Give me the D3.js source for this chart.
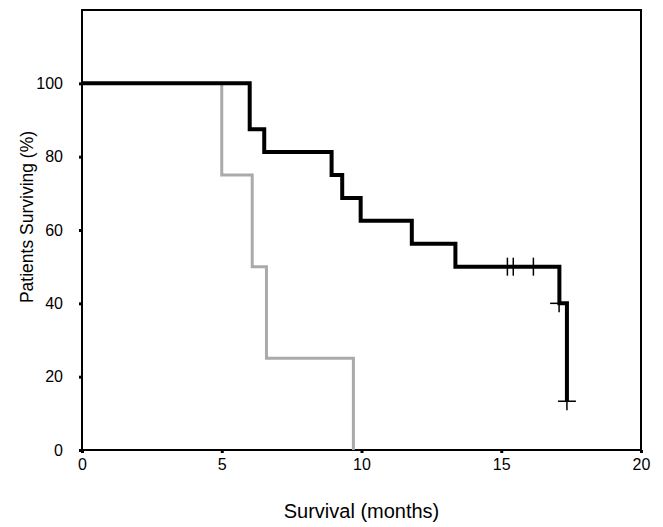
<!DOCTYPE html>
<html>
<head>
<meta charset="utf-8">
<script src="https://cdn.jsdelivr.net/npm/d3@7"></script>
<style>
  body { margin: 0; background: #fff; }
  text { font-family: "Liberation Sans", Arial, sans-serif; }
</style>
</head>
<body>
<div id="chart"></div>
<script>
// survival curves (months, % surviving)
var blackTimes = [0, 6.0, 6.52, 8.93, 9.31, 9.97, 11.8, 13.36, 17.08, 17.35];
var blackSurv = [100, 87.5, 81.25, 75, 68.75, 62.5, 56.25, 50, 40, 13.3];
var blackCensorTimes = [15.22, 15.43, 16.15, 17.07, 17.35];
var blackCensorSurv = [50, 50, 50, 40, 13.3];

var greyTimes = [5, 5, 6.09, 6.6, 9.71];
var greySurv = [100, 75, 50, 25, 0];

var xTicks = [0, 5, 10, 15, 20];
var yTicks = [0, 20, 40, 60, 80, 100];

var width = 663;
var height = 527;
var margin = { left: 82, right: 22, top: 10, bottom: 77 };
var plotW = width - margin.left - margin.right;
var plotH = height - margin.top - margin.bottom;

var xScale = d3.scaleLinear().domain([0, 20]).range([0, plotW]);
var yScale = d3.scaleLinear().domain([0, 120]).range([plotH, 0]);

var svg = d3.select("#chart").append("svg")
    .attr("width", width)
    .attr("height", height);

var g = svg.append("g")
    .attr("transform", "translate(" + margin.left + "," + margin.top + ")");

var line = d3.line()
    .x(function (d) { return xScale(d[0]); })
    .y(function (d) { return yScale(d[1]); })
    .curve(d3.curveStepAfter);

// frame
g.append("rect")
    .attr("width", plotW)
    .attr("height", plotH)
    .attr("fill", "none")
    .attr("stroke", "#000")
    .attr("stroke-width", 2);

var xAxis = d3.axisBottom(xScale).tickValues(xTicks).tickSize(3).tickPadding(6);
var yAxis = d3.axisLeft(yScale).tickValues(yTicks).tickSize(3).tickPadding(16);

var gx = g.append("g")
    .attr("transform", "translate(0," + plotH + ")")
    .call(xAxis);
var gy = g.append("g").call(yAxis);

[gx, gy].forEach(function (ax) {
    ax.select(".domain").remove();
    ax.selectAll("line").attr("stroke", "#000").attr("stroke-width", 3);
    ax.selectAll("text")
        .attr("fill", "#000")
        .style("font-size", "16px");
});

// curves
g.append("path")
    .attr("fill", "none")
    .attr("stroke", "#aaaaaa")
    .attr("stroke-width", 3)
    .attr("d", line(d3.zip(greyTimes, greySurv)));

g.append("path")
    .attr("fill", "none")
    .attr("stroke", "#000")
    .attr("stroke-width", 4)
    .attr("d", line(d3.zip(blackTimes, blackSurv)));

// censor marks
var censor = g.append("g").attr("stroke", "#000").attr("stroke-width", 1.5);
d3.zip(blackCensorTimes, blackCensorSurv).forEach(function (d) {
    var cx = xScale(d[0]), cy = yScale(d[1]);
    censor.append("line").attr("x1", cx).attr("x2", cx).attr("y1", cy - 9).attr("y2", cy + 9);
    censor.append("line").attr("x1", cx - 9).attr("x2", cx + 9).attr("y1", cy).attr("y2", cy);
});

// titles
svg.append("text")
    .attr("x", margin.left + plotW / 2)
    .attr("y", 518)
    .attr("text-anchor", "middle")
    .style("font-size", "20px")
    .text("Survival (months)");

svg.append("text")
    .attr("transform", "translate(33,217) rotate(-90)")
    .attr("text-anchor", "middle")
    .style("font-size", "17.5px")
    .text("Patients Surviving (%)");
</script>
</body>
</html>
